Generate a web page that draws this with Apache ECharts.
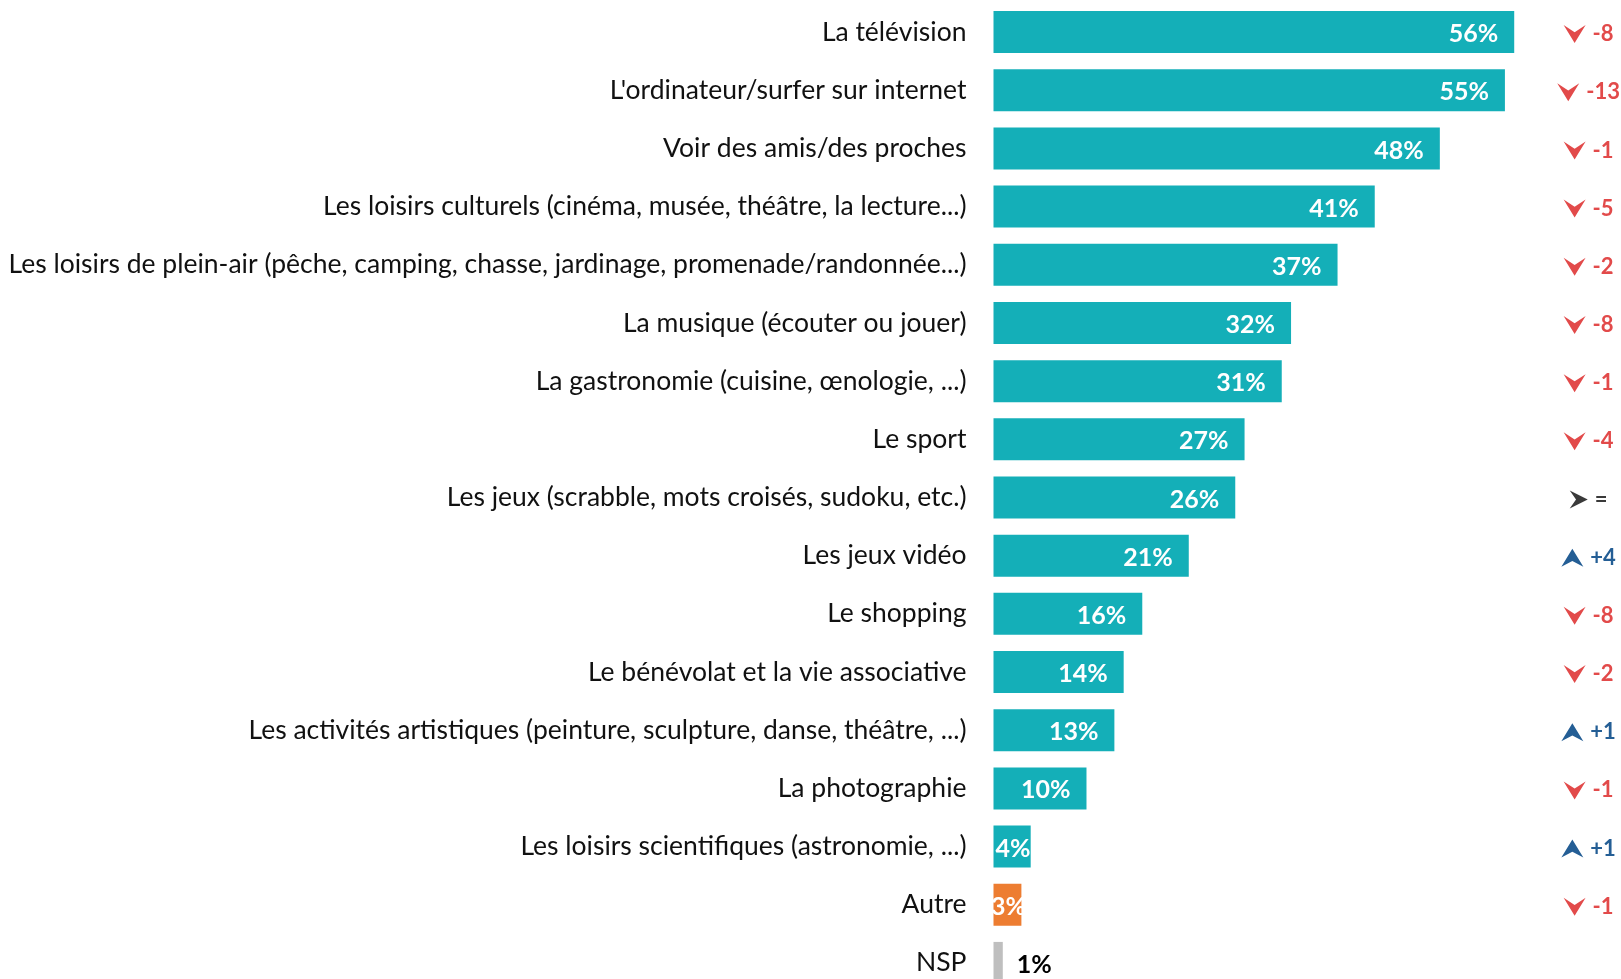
<!DOCTYPE html>
<html>
<head>
<meta charset="utf-8">
<script src="https://cdn.jsdelivr.net/npm/echarts@6/dist/echarts.min.js"></script>
<style>
  html, body { margin: 0; padding: 0; background: #fff; }
  #main { width: 1621px; height: 979px; }
</style>
</head>
<body>
<div id="main"></div>
<script>
// categories (top to bottom)
var categories = [
    "La télévision",
    "L'ordinateur/surfer sur internet",
    "Voir des amis/des proches",
    "Les loisirs culturels (cinéma, musée, théâtre, la lecture...)",
    "Les loisirs de plein-air (pêche, camping, chasse, jardinage, promenade/randonnée...)",
    "La musique (écouter ou jouer)",
    "La gastronomie (cuisine, œnologie, ...)",
    "Le sport",
    "Les jeux (scrabble, mots croisés, sudoku, etc.)",
    "Les jeux vidéo",
    "Le shopping",
    "Le bénévolat et la vie associative",
    "Les activités artistiques (peinture, sculpture, danse, théâtre, ...)",
    "La photographie",
    "Les loisirs scientifiques (astronomie, ...)",
    "Autre",
    "NSP"
];
var values = [56, 55, 48, 41, 37, 32, 31, 27, 26, 21, 16, 14, 13, 10, 4, 3, 1];
// evolution vs previous wave (NSP has none)
var deltas = [-8, -13, -1, -5, -2, -8, -1, -4, 0, 4, -8, -2, 1, -1, 1, -1];

const TEAL = '#14AFB8', ORANGE = '#ED7D31', GREY = '#BFBFBF';
const RED = '#E24A4A', BLUE = '#245E95', DARK = '#3A3A3A';
const FONT = 'Lato';
const ARROW_X = 64;   // column of the evolution markers, in axis units

var measure = document.createElement('canvas').getContext('2d');
measure.font = 'bold 22px ' + FONT;

function barColor(i){
    if (categories[i] === 'Autre') return ORANGE;
    if (categories[i] === 'NSP') return GREY;
    return TEAL;
}

var barData = values.map(function(v, i){
    var item = { value: v, itemStyle: { color: barColor(i) } };
    if (categories[i] === 'NSP') {
        item.label = { position: 'right', distance: 14, color: '#000' };
    } else if (v < 6) {
        item.label = { position: 'inside', offset: [1, 2] };
    }
    return item;
});

function renderDelta(params, api){
    var d = api.value(1);
    var pt = api.coord([ARROW_X, api.value(0)]);
    var txt = d === 0 ? '=' : (d > 0 ? '+' + d : String(d));
    var color = d < 0 ? RED : (d > 0 ? BLUE : DARK);
    var tw = measure.measureText(txt).width;
    var aw = d === 0 ? 18 : 22, ah = 18, gap = 7;
    var x0 = pt[0] - (aw + gap + tw) / 2;
    var y0 = pt[1] + 2 - ah / 2;
    var pts;
    if (d < 0) {
        pts = [[x0, y0], [x0 + aw / 2, y0 + ah * 0.4], [x0 + aw, y0], [x0 + aw / 2, y0 + ah]];
    } else if (d > 0) {
        pts = [[x0 + aw / 2, y0], [x0 + aw, y0 + ah], [x0 + aw / 2, y0 + ah * 0.68], [x0, y0 + ah]];
    } else {
        pts = [[x0, y0], [x0 + aw, y0 + ah / 2], [x0, y0 + ah], [x0 + aw * 0.35, y0 + ah / 2]];
    }
    return {
        type: 'group',
        children: [
            { type: 'polygon', shape: { points: pts }, style: { fill: color } },
            { type: 'text', x: x0 + aw + gap, y: pt[1] + 2,
              style: { text: txt, fill: color, font: 'bold 22px ' + FONT,
                       verticalAlign: 'middle', align: 'left' } }
        ]
    };
}

var chart = echarts.init(document.getElementById('main'));
var option = {
    animation: false,
    grid: { left: 993.5, top: 3, width: 623, height: 989, outerBoundsMode: 'none', containLabel: false },
    xAxis: { type: 'value', min: 0, max: 67, show: false },
    yAxis: {
        type: 'category',
        inverse: true,
        data: categories,
        axisLine: { show: false },
        axisTick: { show: false },
        splitLine: { show: false },
        axisLabel: { color: '#111', fontFamily: FONT, fontSize: 26.5, margin: 27 }
    },
    series: [
        {
            type: 'bar',
            barWidth: 42,
            data: barData,
            label: {
                show: true,
                position: 'insideRight',
                distance: 16,
                offset: [0, 2],
                formatter: '{c}%',
                color: '#fff',
                fontFamily: FONT,
                fontWeight: 'bold',
                fontSize: 25
            }
        },
        {
            type: 'custom',
            renderItem: renderDelta,
            data: deltas.map(function(d, i){ return [i, d]; }),
            encode: { y: 0, x: 1 },
            silent: true,
            clip: false
        }
    ]
};
chart.setOption(option);
</script>
</body>
</html>
